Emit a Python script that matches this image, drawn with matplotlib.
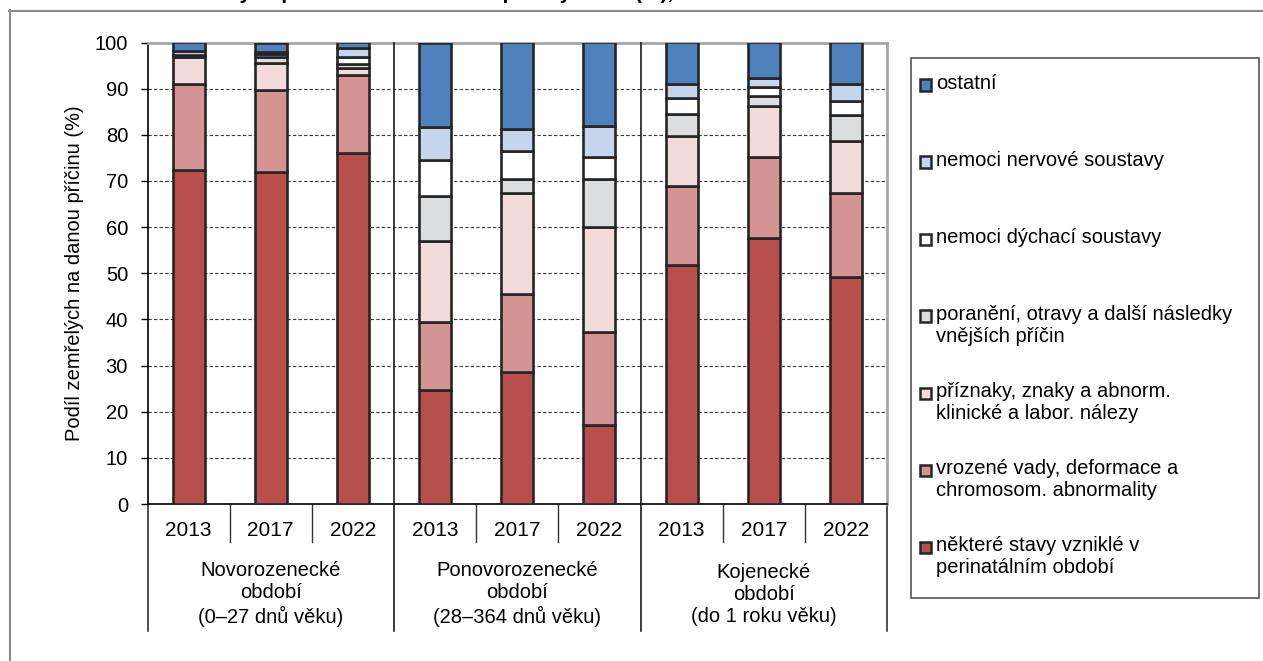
import matplotlib.pyplot as plt
from matplotlib.patches import Rectangle
from matplotlib.lines import Line2D

plt.rcParams['font.family'] = ['Liberation Sans', 'DejaVu Sans']

W, H = 1263, 661

# data (%), order of bars: 3 periods x 3 years
years = ['2013', '2017', '2022']
periods = ['Novorozenecké\nobdobí\n(0–27 dnů věku)',
           'Ponovorozenecké\nobdobí\n(28–364 dnů věku)',
           'Kojenecké\nobdobí\n(do 1 roku věku)']

perinatal = [72.3, 71.9, 76.0, 24.7, 28.6, 17.1, 51.8, 57.6, 49.2]
vrozene = [18.6, 17.9, 16.9, 14.7, 17.0, 20.2, 17.0, 17.5, 18.2]
priznaky = [5.9, 5.8, 1.6, 17.6, 21.8, 22.7, 10.9, 11.2, 11.3]
poraneni = [0.3, 1.3, 0.8, 9.8, 3.0, 10.4, 4.7, 2.1, 5.5]
dychaci = [0.2, 0.5, 1.5, 7.8, 6.0, 4.8, 3.6, 2.0, 3.1]
nervove = [0.9, 0.6, 1.9, 7.1, 4.9, 6.8, 3.0, 1.9, 3.7]
ostatni = [1.8, 2.0, 1.3, 18.3, 18.7, 18.0, 9.0, 7.7, 9.0]

series = [
    ('některé stavy vzniklé v\nperinatálním období', perinatal, '#B84F4D'),
    ('vrozené vady, deformace a\nchromosom. abnormality', vrozene, '#D49494'),
    ('příznaky, znaky a abnorm.\nklinické a labor. nálezy', priznaky, '#F2DCDB'),
    ('poranění, otravy a další následky\nvnějších příčin', poraneni, '#DCDDDE'),
    ('nemoci dýchací soustavy', dychaci, '#FFFFFF'),
    ('nemoci nervové soustavy', nervove, '#C5D6EC'),
    ('ostatní', ostatni, '#4F81BD'),
]

FS = 14.5

fig = plt.figure(figsize=(W / 100, H / 100), dpi=100)

# outer frame (partly off the picture)
fig.add_artist(Line2D([9 / W, 1], [1 - 10.5 / H] * 2, color='#8c8c8c', lw=1.5))
fig.add_artist(Line2D([9.5 / W] * 2, [0, 1 - 10 / H], color='#8c8c8c', lw=1.5))

# title, cut off at the top edge (only descenders show)
fig.text(8 / W, 1 + 1 / H, 'Graf 5 Struktura zemřelých podle období a hlavní příčiny úmrtí (%), 2013–2022',
         fontsize=15, fontweight='bold', va='baseline', ha='left')

ax = fig.add_axes([147.5 / W, 1 - 504 / H, (887 - 147.5) / W, (504 - 42.5) / H])

x = list(range(len(perinatal)))
bottom = [0.0] * len(x)
for label, vals, col in series:
    ax.bar(x, vals, width=0.39, bottom=bottom, color=col,
           edgecolor='#262626', linewidth=1.9, zorder=3)
    bottom = [b + v for b, v in zip(bottom, vals)]

ax.set_xlim(-0.5, 8.5)
ax.set_ylim(0, 100)
ax.set_yticks(range(0, 101, 10))
ax.tick_params(axis='y', labelsize=FS, length=5, width=1, pad=9, color='black')
ax.set_xticks([])
ax.yaxis.grid(True, linestyle=(0, (3, 2)), color='#3a3a3a', lw=0.8)
ax.set_axisbelow(True)

for s in ['left', 'bottom']:
    ax.spines[s].set_color('black')
    ax.spines[s].set_linewidth(1.2)
for s in ['top', 'right']:
    ax.spines[s].set_color('#a6a6a6')
    ax.spines[s].set_linewidth(2)

trans = ax.get_xaxis_transform()
y_year = (504 - 530) / 461.5
y_short = (504 - 542) / 461.5
y_long = (504 - 630.5) / 461.5
y_group = (504 - 594) / 461.5

for i in x:
    ax.text(i, y_year, years[i % 3], transform=trans, ha='center', va='center', fontsize=15)
for g, name in enumerate(periods):
    ax.text(g * 3 + 1, y_group, name, transform=trans, ha='center', va='center',
            fontsize=FS, linespacing=1.2)

# category separators
for xs in [0.5, 1.5, 3.5, 4.5, 6.5, 7.5]:
    ax.plot([xs, xs], [0, y_short], transform=trans, color='#333333', lw=1, clip_on=False)
for xs in [-0.5, 8.5]:
    ax.plot([xs, xs], [0, y_long], transform=trans, color='#333333', lw=1.2, clip_on=False)
for xs in [2.5, 5.5]:
    ax.plot([xs, xs], [1, y_long], transform=trans, color='#1a1a1a', lw=1.2, clip_on=False, zorder=4)

fig.text(75 / W, 1 - 273 / H, 'Podíl zemřelých na danou příčinu (%)', rotation=90,
         ha='center', va='center', fontsize=FS)

# legend box, entries listed from top of stack downward
fig.add_artist(Rectangle((910.5 / W, 1 - 597.5 / H), (1259 - 910.5) / W, (597.5 - 57.5) / H,
                         transform=fig.transFigure, facecolor='white', edgecolor='#555555', lw=1.2))
for k, (label, vals, col) in enumerate(series[::-1]):
    yc = 85 + 77 * k
    fig.add_artist(Rectangle((920 / W, 1 - (yc + 5.5) / H), 11 / W, 11 / H,
                             transform=fig.transFigure, facecolor=col, edgecolor='#262626', lw=1.8))
    fig.text(936 / W, 1 - (yc - 11) / H, label, fontsize=FS, va='top', ha='left', linespacing=1.2)

fig.savefig('out.png', dpi=100)
